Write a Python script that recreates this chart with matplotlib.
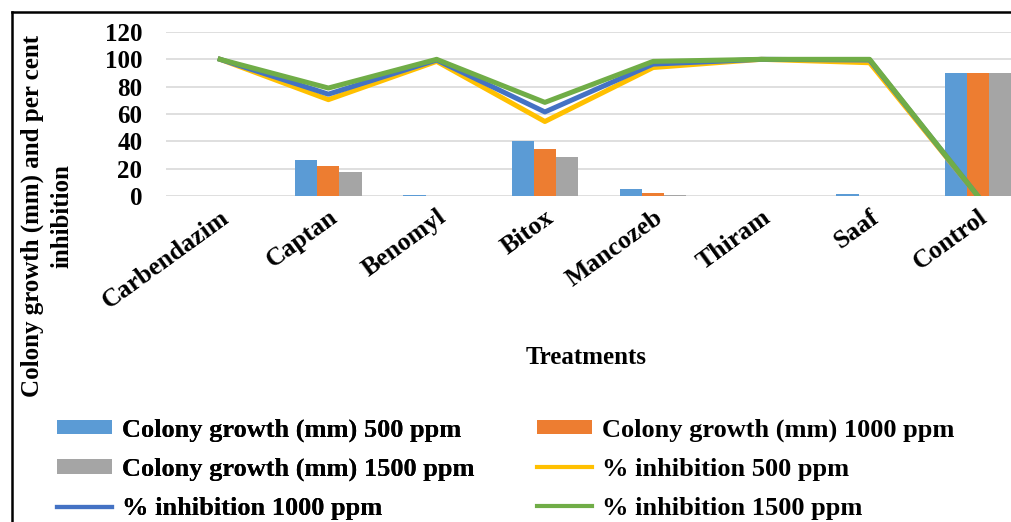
import matplotlib
matplotlib.use("Agg")
import matplotlib.pyplot as plt
import numpy as np
from matplotlib.lines import Line2D

categories = ["Carbendazim", "Captan", "Benomyl", "Bitox", "Mancozeb", "Thiram", "Saaf", "Control"]
growth_500 = [0, 26.3, 1.0, 40.5, 5.3, 0, 1.5, 90]
growth_1000 = [0, 22.3, 0, 34.5, 2.0, 0, 0, 90]
growth_1500 = [0, 17.8, 0, 28.5, 1.0, 0, 0, 90]
inhib_500 = [100, 70.5, 98.5, 54.5, 94, 100, 97.5, 0]
inhib_1000 = [100, 74.5, 99.5, 61.5, 96.5, 100, 99.5, 0]
inhib_1500 = [100, 79, 100, 68.5, 98.5, 100, 100, 0]
yticks = [0, 20, 40, 60, 80, 100, 120]

plt.rcParams['font.family'] = ['Liberation Serif', 'DejaVu Serif']
plt.rcParams['font.weight'] = 'bold'

W, H = 1011, 522
fig = plt.figure(figsize=(W / 100, H / 100), dpi=100)
fig.patch.set_facecolor('white')

# frame border (extends beyond the image on right/bottom)
fig.add_artist(Line2D([12 / W, 12 / W], [0, 1 - 12 / H], transform=fig.transFigure, color='black', lw=1.8))
fig.add_artist(Line2D([12 / W, 1], [1 - 12 / H, 1 - 12 / H], transform=fig.transFigure, color='black', lw=1.8))

left, right = 166, 1032
bottom, top = 196, 32
ax = fig.add_axes([left / W, 1 - bottom / H, (right - left) / W, (bottom - top) / H])

x = np.arange(len(categories))
bw = 0.205
ax.bar(x - bw, growth_500, bw, color='#5B9BD5', label='Colony growth (mm) 500 ppm', zorder=2)
ax.bar(x, growth_1000, bw, color='#ED7D31', label='Colony growth (mm) 1000 ppm', zorder=2)
ax.bar(x + bw, growth_1500, bw, color='#A5A5A5', label='Colony growth (mm) 1500 ppm', zorder=2)
ax.plot(x, inhib_500, color='#FFC000', lw=3.6, label='% inhibition 500 ppm', zorder=3)
ax.plot(x, inhib_1000, color='#4472C4', lw=3.6, label='% inhibition 1000 ppm', zorder=4)
ax.plot(x, inhib_1500, color='#70AD47', lw=3.6, label='% inhibition 1500 ppm', zorder=5)

ax.set_xlim(-0.5, len(categories) - 0.5)
ax.set_ylim(0, 120)
ax.set_yticks(yticks)
ax.set_yticklabels([str(v) for v in yticks], fontsize=18, fontweight='bold')
ax.set_xticks(x)
ax.set_xticklabels(categories, rotation=36, ha='right', rotation_mode='anchor', fontsize=18.5, fontweight='bold')
ax.tick_params(axis='both', length=0)
ax.tick_params(axis='y', pad=17)
ax.tick_params(axis='x', pad=7)
for s in ax.spines.values():
    s.set_visible(False)
ax.grid(axis='y', color='#D9D9D9', lw=1.2, zorder=0)
ax.set_axisbelow(True)

fig.text(586 / W, 1 - 357 / H, 'Treatments', ha='center', va='center', fontsize=18, fontweight='bold')
fig.text(47 / W, 1 - 216 / H, 'Colony growth (mm) and per cent\ninhibition', rotation=90,
         ha='center', va='center', fontsize=18, fontweight='bold', linespacing=1.4)

handles, labels = ax.get_legend_handles_labels()
lab_map = dict(zip(labels, handles))
col1 = ['Colony growth (mm) 500 ppm', 'Colony growth (mm) 1500 ppm', '% inhibition 1000 ppm']
col2 = ['Colony growth (mm) 1000 ppm', '% inhibition 500 ppm', '% inhibition 1500 ppm']
common = dict(frameon=False, handlelength=2.1, handleheight=0.48, labelspacing=0.6,
              handletextpad=0.35, borderpad=0, borderaxespad=0, loc='upper left',
              prop={'weight': 'bold', 'size': 19})
leg1 = fig.legend([lab_map[l] for l in col1], col1, bbox_to_anchor=(57 / W, 1 - 418.5 / H), **common)
fig.add_artist(leg1)
leg2 = fig.legend([lab_map[l] for l in col2], col2, bbox_to_anchor=(537 / W, 1 - 418.5 / H), **common)
for leg in (leg1, leg2):
    for ln in leg.get_lines():
        ln.set_linewidth(3)

fig.savefig('out.png', dpi=100)
